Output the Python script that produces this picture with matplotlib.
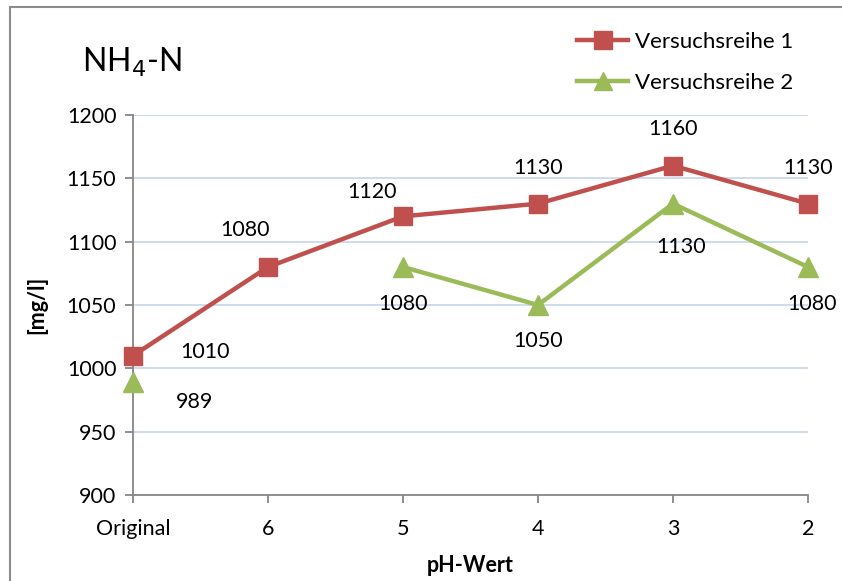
import matplotlib
matplotlib.use("Agg")
import matplotlib.pyplot as plt
from matplotlib.lines import Line2D
import numpy as np

categories = ["Original", "6", "5", "4", "3", "2"]
series1_name = "Versuchsreihe 1"
series2_name = "Versuchsreihe 2"
series1 = [1010, 1080, 1120, 1130, 1160, 1130]
series2 = [989, np.nan, 1080, 1050, 1130, 1080]
yticks = [900, 950, 1000, 1050, 1100, 1150, 1200]

plt.rcParams['font.family'] = ['Lato', 'DejaVu Sans']

W, H = 842, 581
fig = plt.figure(figsize=(W / 100, H / 100), dpi=100)
ax = fig.add_axes([133 / W, 1 - 495 / H, (808 - 133) / W, (495 - 115) / H])

x = np.arange(len(categories))
red = "#C0504D"
green = "#9BBB59"

ax.plot(x, series1, color=red, lw=3.2, marker="s", markersize=13, clip_on=False, zorder=3,
        label=series1_name)
# series 2: gap at missing value, isolated first point
ax.plot(x, series2, color=green, lw=3.2, marker="^", markersize=14, clip_on=False, zorder=3,
        label=series2_name)

ax.set_xlim(0, len(categories) - 1)
ax.set_ylim(900, 1200)
ax.set_yticks(yticks)
ax.set_xticks(x)
ax.set_xticklabels(categories)
ax.grid(axis="y", color="#C5D5EA", lw=1.2)
ax.set_axisbelow(True)
for s in ["top", "right"]:
    ax.spines[s].set_visible(False)
for s in ["left", "bottom"]:
    ax.spines[s].set_color("#868686")
    ax.spines[s].set_linewidth(1.3)
ax.tick_params(axis="both", colors="#868686", labelcolor="black", labelsize=15.5, length=6, width=1.3)
ax.tick_params(axis="x", pad=11)
ax.tick_params(axis="y", pad=6)

# data labels (offsets in pixels)
off1 = [(72, 4), (-23, 37), (-31, 24), (0, 36), (0, 37), (0, 36)]
off2 = [(62, -20), None, (0, -37), (0, -36), (8, -43), (4, -37)]
for i, v in enumerate(series1):
    ax.annotate(f"{v}", (x[i], v), xytext=off1[i], textcoords="offset pixels",
                ha="center", va="center", fontsize=15.5, annotation_clip=False)
for i, v in enumerate(series2):
    if np.isnan(v):
        continue
    ax.annotate(f"{v}", (x[i], v), xytext=off2[i], textcoords="offset pixels",
                ha="center", va="center", fontsize=15.5, annotation_clip=False)

ax.set_xlabel("pH-Wert", fontsize=15.5, fontweight="bold", labelpad=12)
ax.set_ylabel("[mg/l]", fontsize=15.5, fontweight="bold", labelpad=14)

fig.text(82 / W, 1 - 62 / H, "NH$_4$-N", fontsize=23, ha="left", va="center")

leg = ax.legend(loc="upper left", bbox_to_anchor=(557 / W, 1 - 12 / H),
                bbox_transform=fig.transFigure, frameon=False, fontsize=16,
                handlelength=2.3, labelspacing=0.95, handletextpad=0.3, markerscale=0.95)

# outer chart frame (partially visible)
fig.add_artist(Line2D([10 / W, 10 / W], [0, 1 - 7 / H], color="#8C8C8C", lw=1.5,
                      transform=fig.transFigure))
fig.add_artist(Line2D([10 / W, 1], [1 - 7 / H, 1 - 7 / H], color="#8C8C8C", lw=1.5,
                      transform=fig.transFigure))

fig.savefig("out.png", dpi=100)
